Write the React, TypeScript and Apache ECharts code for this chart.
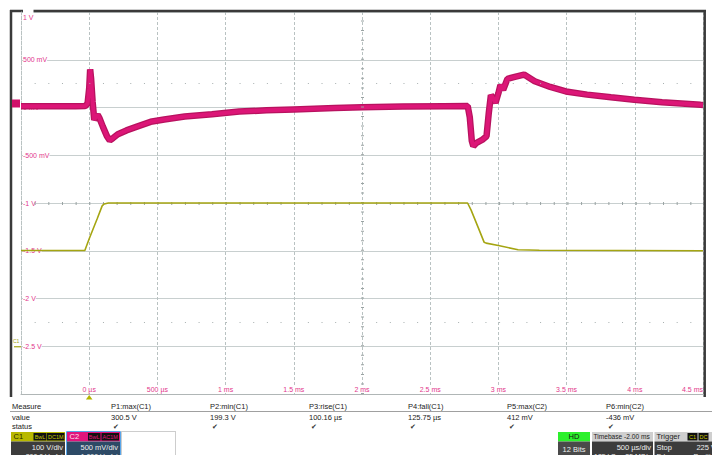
import React, { useEffect, useRef } from 'react';
import * as echarts from 'echarts';

// C2 (AC-coupled), time in µs, value in mV
const c2Time = [-500, -300, -100, -30, -12, 0, 7, 14, 25, 37, 48, 62, 75, 100, 130, 151, 175, 210, 273, 350, 450, 550, 700, 900, 1100, 1300, 1500, 1800, 2000, 2300, 2600, 2775, 2790, 2805, 2816, 2840, 2880, 2913, 2930, 2945, 2960, 2979, 3000, 3015, 3035, 3066, 3120, 3188, 3266, 3380, 3495, 3650, 3825, 3996, 4200, 4482, 4500];
const c2Mv = [12, 14, 12, 15, 40, 200, 400, 300, 60, -130, -100, -75, -110, -200, -300, -345, -320, -280, -240, -200, -150, -125, -95, -70, -42, -30, -20, -5, 2, 10, 14, 16, -100, -350, -405, -370, -340, -300, -50, 130, 100, 50, 150, 235, 185, 300, 320, 345, 275, 215, 168, 135, 108, 82, 55, 28, 27];

// C1 (100 V/div), time in µs, value in V
const c1Time = [-500, -32, 0, 60, 95, 110, 140, 2774, 2800, 2850, 2895, 2910, 3000, 3144, 3300, 4500];
const c1V = [200.5, 200.5, 225, 268, 294, 298, 300, 300, 285, 250, 218, 216, 211, 202, 201, 200];

const xTickLabels = ['', '0 µs', '500 µs', '1 ms', '1.5 ms', '2 ms', '2.5 ms', '3 ms', '3.5 ms', '4 ms', '4.5 ms'];
const yTickLabels = ['', '-2.5 V', '-2 V', '-1.5 V', '-1 V', '-500 mV', '0 mV', '500 mV', '1 V'];

const measureNames = ['P1:max(C1)', 'P2:min(C1)', 'P3:rise(C1)', 'P4:fall(C1)', 'P5:max(C2)', 'P6:min(C2)'];
const measureValues = ['300.5 V', '199.3 V', '100.16 µs', '125.75 µs', '412 mV', '-436 mV'];
const measureRows = ['Measure', 'value', 'status'];

const FONT = 'Liberation Sans';

function rect(x: number, y: number, w: number, h: number, fill: string, stroke?: string, dash?: number[]) {
  return {
    type: 'rect', silent: true,
    shape: { x, y, width: w, height: h },
    style: { fill, stroke: stroke || null, lineWidth: 1, lineDash: dash || null },
  };
}
function txt(x: number, y: number, s: string, fill: string, size = 7.5, align = 'left', family = FONT) {
  return {
    type: 'text', silent: true, x, y,
    style: { text: s, fill, font: `${size}px ${family}`, textAlign: align, textVerticalAlign: 'middle' },
  };
}
function line(x1: number, y1: number, x2: number, y2: number, stroke: string, w = 1) {
  return { type: 'line', silent: true, shape: { x1, y1, x2, y2 }, style: { stroke, lineWidth: w } };
}

export default function App() {
  const ref = useRef<HTMLDivElement>(null);
  useEffect(() => {
    document.body.style.margin = '0';
    const chart = echarts.init(ref.current!, null, { renderer: 'svg' });
    const pink = '#e2378b';
    const c2Data = c2Time.map((t, i) => [t, c2Mv[i]]);
    const c1Data = c1Time.map((t, i) => [t, c1V[i]]);
    chart.setOption({
      animation: false,
      backgroundColor: '#ffffff',
      grid: { left: 21, top: 12, right: 9, bottom: 61, containLabel: false },
      xAxis: {
        type: 'value', min: -500, max: 4500, interval: 500,
        axisLine: { show: true, onZero: false, lineStyle: { color: '#b0b6b6', width: 1 } },
        axisTick: { show: false },
        axisLabel: {
          inside: true, margin: 1, fontSize: 7, fontFamily: FONT, color: pink,
          showMinLabel: false, alignMaxLabel: 'right', backgroundColor: '#ffffff',
          formatter: (v: number) => xTickLabels[Math.round((v + 500) / 500)] || '',
        },
        splitLine: { show: true, lineStyle: { color: '#b9c2c2', type: [3, 2], width: 1 } },
      },
      yAxis: [
        {
          type: 'value', min: -3000, max: 1000, interval: 500,
          axisLine: { show: true, onZero: false, lineStyle: { color: '#b9c2c2', type: [3, 2] } },
          axisTick: { show: false },
          axisLabel: {
            inside: true, margin: 2, fontSize: 7, fontFamily: FONT, color: pink,
            showMinLabel: false, backgroundColor: '#ffffff',
            formatter: (v: number) => {
              const s = yTickLabels[Math.round((v + 3000) / 500)] || '';
              return v >= 1000 ? `{top|${s}}` : s;
            },
            rich: { top: { padding: [10, 0, 0, 0], fontSize: 7, fontFamily: FONT, color: pink } },
          },
          splitLine: { show: true, lineStyle: { color: '#c8cfcf', width: 1 } },
        },
        { type: 'value', min: -100, max: 700, interval: 100, show: false },
      ],
      series: [
        {
          type: 'line', data: c2Data, showSymbol: false, z: 3,
          lineStyle: { color: '#b8125f', width: 6.5 }, silent: true,
          markLine: {
            silent: true, symbol: 'none', label: { show: false }, animation: false,
            data: [
              { yAxis: -1000, lineStyle: { color: '#9aa3a3', width: 3, type: [1, 12.66] } },
              { yAxis: 250, lineStyle: { color: '#a8b0b0', width: 1, type: [1, 12.66] } },
              { yAxis: -2250, lineStyle: { color: '#a8b0b0', width: 1, type: [1, 12.66] } },
              { xAxis: 2000, lineStyle: { color: '#9aa3a3', width: 3, type: [1, 8.55] } },
            ],
          },
        },
        {
          type: 'line', data: c2Data, showSymbol: false, z: 4, silent: true,
          lineStyle: { color: '#dc1677', width: 4 },
        },
        {
          type: 'line', data: c1Data, yAxisIndex: 1, showSymbol: false, z: 5, silent: true,
          lineStyle: { color: '#a5a512', width: 1.6 },
        },
      ],
    });

    const x0 = chart.convertToPixel({ xAxisIndex: 0 }, 0) as number;
    const gndC1 = chart.convertToPixel({ yAxisIndex: 1 }, 0) as number;
    const dark = '#222222';
    const g: any[] = [];
    // frame
    g.push(line(10, 11, 706, 11, '#3a3a3a', 2.5));
    g.push(line(11, 10, 11, 397, '#3a3a3a', 2.5));
    g.push(line(704.7, 10, 704.7, 397, '#3a3a3a', 2.5));
    // channel ground markers
    g.push(rect(12, 99.5, 8, 8, '#d0106a'));
    g.push(txt(13, gndC1 - 5, 'C1', '#a5a512', 5));
    g.push(line(14, gndC1 + 0.5, 21, gndC1 + 0.5, '#a5a512', 1.2));
    // trigger marker
    g.push({ type: 'polygon', silent: true, shape: { points: [[x0 - 3.3, 399.5], [x0, 395], [x0 + 3.3, 399.5]] }, style: { fill: '#b4b400' } });
    // measure table
    g.push(line(10, 411.5, 712, 411.5, '#a0a0a0', 1));
    const rowsY = [406.5, 417, 426.5];
    measureRows.forEach((r, i) => g.push(txt(12, rowsY[i], r, dark, 7.5)));
    const colX = [111, 210, 309, 408, 507, 606];
    colX.forEach((cx, i) => {
      g.push(txt(cx, rowsY[0], measureNames[i], dark, 7.5));
      g.push(txt(cx, rowsY[1], measureValues[i], dark, 7.5));
      g.push(txt(cx + 2, rowsY[2] + 0.5, '✔', '#333333', 7, 'left', 'DejaVu Sans'));
    });
    // C1 box
    g.push(rect(11, 432, 54, 9.5, '#b8b800'));
    g.push(txt(13.5, 436.8, 'C1', '#2a2a00', 7.5));
    g.push(rect(33.5, 433, 13, 7.5, '#111111'));
    g.push(txt(40, 436.8, 'BwL', '#c9c900', 5.5, 'center'));
    g.push(rect(47, 433, 17.5, 7.5, '#111111'));
    g.push(txt(55.8, 436.8, 'DC1M', '#c9c900', 5.5, 'center'));
    g.push(rect(11, 441.5, 54, 14, '#3c3c3c'));
    g.push(txt(63, 447.5, '100 V/div', '#eeeeee', 7.5, 'right'));
    g.push(txt(63, 456.5, '-300.0 V ofst', '#eeeeee', 7, 'right'));
    // C2 box
    g.push(rect(67, 432, 53, 9.5, '#e0147c'));
    g.push(txt(69.5, 436.8, 'C2', '#ffe0f0', 7.5));
    g.push(rect(88, 433, 12.5, 7.5, '#111111'));
    g.push(txt(94.2, 436.8, 'BwL', '#e0147c', 5.5, 'center'));
    g.push(rect(101.5, 433, 17.5, 7.5, '#111111'));
    g.push(txt(110.2, 436.8, 'AC1M', '#e0147c', 5.5, 'center'));
    g.push(rect(67, 441.5, 53, 14, '#2d4a66'));
    g.push(rect(66.5, 431.5, 54, 24, 'none', '#58a6ea'));
    g.push(txt(118, 447.5, '500 mV/div', '#eeeeee', 7.5, 'right'));
    g.push(txt(118, 456.5, '1.000 V ofst', '#eeeeee', 7, 'right'));
    // empty dotted box
    g.push(rect(121.5, 431.5, 54, 24, 'none', '#9a9a9a', [1, 1]));
    // HD box
    g.push(rect(558, 432, 32, 9.5, '#2cf02c'));
    g.push(txt(574, 436.8, 'HD', '#111111', 7.5, 'center'));
    g.push(rect(558, 441.5, 32, 14, '#4a4a4a'));
    g.push(txt(574, 449, '12 Bits', '#eeeeee', 7.5, 'center'));
    // Timebase box
    g.push(rect(592, 432, 61, 9.5, '#cfcfcf'));
    g.push(txt(593.5, 436.8, 'Timebase -2.00 ms', '#222222', 6.6));
    g.push(rect(592, 441.5, 61, 14, '#3c3c3c'));
    g.push(txt(651, 447.5, '500 µs/div', '#eeeeee', 7.5, 'right'));
    g.push(txt(594, 456.5, '125 kS', '#eeeeee', 7));
    g.push(txt(651, 456.5, '25 MS/s', '#eeeeee', 7, 'right'));
    // Trigger box
    g.push(rect(654.5, 432, 58, 9.5, '#cfcfcf'));
    g.push(txt(656.5, 436.8, 'Trigger', '#222222', 7.5));
    g.push(rect(687.5, 433, 10, 7.5, '#111111'));
    g.push(txt(692.5, 436.8, 'C1', '#c9c900', 5.5, 'center'));
    g.push(rect(698.5, 433, 10, 7.5, '#111111'));
    g.push(txt(703.5, 436.8, 'DC', '#c9c900', 5.5, 'center'));
    g.push(rect(654.5, 441.5, 58, 14, '#3c3c3c'));
    g.push(txt(656.5, 447.5, 'Stop', '#eeeeee', 7.5));
    g.push(txt(716, 447.5, '225 V', '#eeeeee', 7.5, 'right'));
    g.push(txt(656.5, 456.5, 'Edge', '#eeeeee', 7));
    g.push(txt(718, 456.5, 'Positive', '#eeeeee', 7, 'right'));
    chart.setOption({ graphic: g });

    return () => chart.dispose();
  }, []);
  return <div ref={ref} style={{ width: 712, height: 455 }} />;
}
